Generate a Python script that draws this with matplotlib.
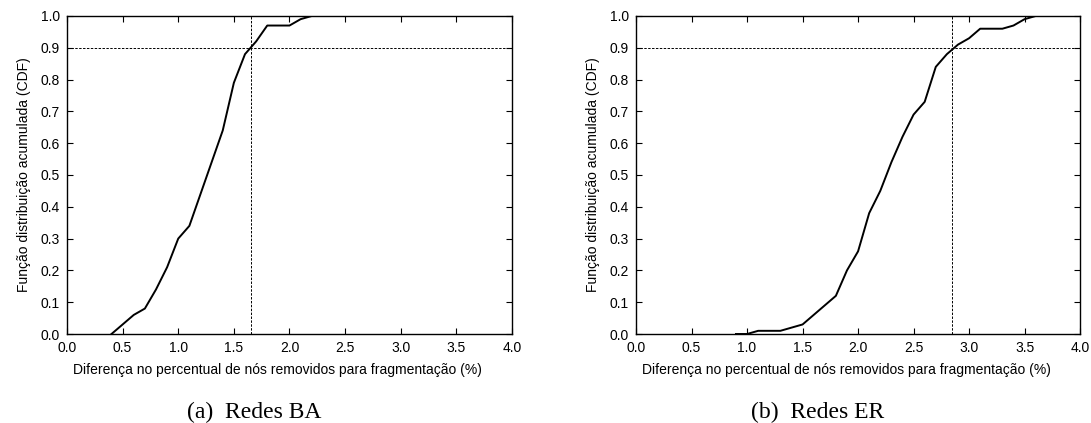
import matplotlib
matplotlib.use("Agg")
import matplotlib.pyplot as plt

# CDF curves
ba_x = [0.4, 0.5, 0.6, 0.7, 0.8, 0.9, 1.0, 1.1, 1.2, 1.3, 1.4, 1.5, 1.6, 1.7, 1.8, 1.9, 2.0, 2.1, 2.2, 2.3, 2.4]
ba_y = [0.00, 0.03, 0.06, 0.08, 0.14, 0.21, 0.30, 0.34, 0.44, 0.54, 0.64, 0.79, 0.88, 0.92, 0.97, 0.97, 0.97, 0.99, 1.00, 1.00, 1.00]
ba_cut = 1.65

er_x = [0.9, 1.0, 1.1, 1.2, 1.3, 1.4, 1.5, 1.6, 1.7, 1.8, 1.9, 2.0, 2.1, 2.2, 2.3, 2.4, 2.5, 2.6, 2.7, 2.8, 2.9, 3.0, 3.1, 3.2, 3.3, 3.4, 3.5, 3.6]
er_y = [0.00, 0.00, 0.01, 0.01, 0.01, 0.02, 0.03, 0.06, 0.09, 0.12, 0.20, 0.26, 0.38, 0.45, 0.54, 0.62, 0.69, 0.73, 0.84, 0.88, 0.91, 0.93, 0.96, 0.96, 0.96, 0.97, 0.99, 1.00]
er_cut = 2.85

x_ticks = [0.0, 0.5, 1.0, 1.5, 2.0, 2.5, 3.0, 3.5, 4.0]
y_ticks = [0.0, 0.1, 0.2, 0.3, 0.4, 0.5, 0.6, 0.7, 0.8, 0.9, 1.0]

xlabel = "Diferença no percentual de nós removidos para fragmentação (%)"
ylabel = "Função distribuição acumulada (CDF)"
captions = ["(a)  Redes BA", "(b)  Redes ER"]

plt.rcParams["font.family"] = ["Liberation Sans", "DejaVu Sans"]

fig = plt.figure(figsize=(10.91, 4.23), dpi=100)
axes = [fig.add_axes([0.0614, 0.2104, 0.4079, 0.7518]),
        fig.add_axes([0.583, 0.2104, 0.407, 0.7518])]

panels = [(ba_x, ba_y, ba_cut), (er_x, er_y, er_cut)]
for ax, (xs, ys, cut) in zip(axes, panels):
    ax.plot(xs, ys, color="black", linewidth=1.4, zorder=3)
    ax.axhline(0.9, color="black", linewidth=0.7, linestyle=(0, (2.5, 1.5)), zorder=2)
    ax.axvline(cut, color="black", linewidth=0.7, linestyle=(0, (2.5, 1.5)), zorder=2)
    ax.set_xlim(0, 4)
    ax.set_ylim(0, 1)
    ax.set_xticks(x_ticks)
    ax.set_yticks(y_ticks)
    ax.set_xticklabels([f"{v:.1f}" for v in x_ticks])
    ax.set_yticklabels([f"{v:.1f}" for v in y_ticks])
    ax.tick_params(direction="in", top=True, right=True, length=4, width=0.8,
                   labelsize=10)
    ax.tick_params(axis="x", pad=5)
    ax.tick_params(axis="y", pad=5)
    for s in ax.spines.values():
        s.set_linewidth(1.0)
    ax.set_xlabel(xlabel, fontsize=10)
    ax.xaxis.set_label_coords(0.473, -0.113)
    ax.xaxis.label.set_va("center")
    ax.set_ylabel(ylabel, fontsize=10, labelpad=7)

fig.text(0.233, 0.026, captions[0], family="Liberation Serif", fontsize=17, ha="center", va="center")
fig.text(0.749, 0.026, captions[1], family="Liberation Serif", fontsize=17, ha="center", va="center")

fig.savefig("out.png", dpi=100)
